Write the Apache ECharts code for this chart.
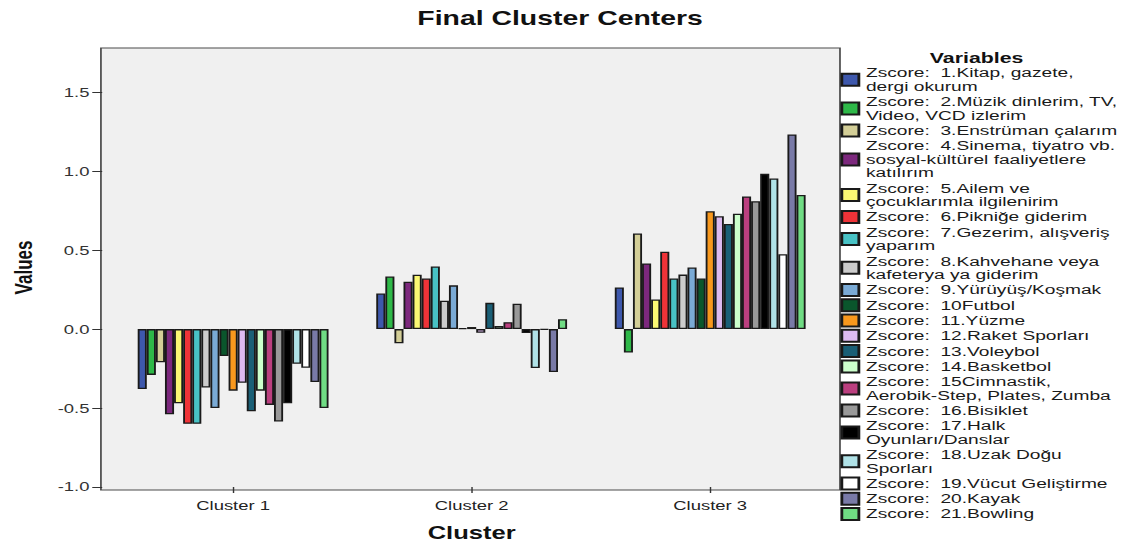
<!DOCTYPE html>
<html>
<head>
<meta charset="utf-8">
<script src="https://cdn.jsdelivr.net/npm/echarts@6/dist/echarts.min.js"></script>
<style>
html,body{margin:0;padding:0;background:#ffffff;overflow:hidden;}
#wrap{width:1130px;height:547px;overflow:hidden;}
#chart{width:796px;height:547px;transform:scaleX(1.4196);transform-origin:0 0;}
</style>
</head>
<body>
<div id="wrap"><div id="chart"></div></div>
<script>
// ---- data ----
const categories = ['Cluster 1', 'Cluster 2', 'Cluster 3'];
const variableNames = [
  'Zscore:  1.Kitap, gazete,\ndergi okurum',
  'Zscore:  2.Müzik dinlerim, TV,\nVideo, VCD izlerim',
  'Zscore:  3.Enstrüman çalarım',
  'Zscore:  4.Sinema, tiyatro vb.\nsosyal-kültürel faaliyetlere\nkatılırım',
  'Zscore:  5.Ailem ve\nçocuklarımla ilgilenirim',
  'Zscore:  6.Pikniğe giderim',
  'Zscore:  7.Gezerim, alışveriş\nyaparım',
  'Zscore:  8.Kahvehane veya\nkafeterya ya giderim',
  'Zscore:  9.Yürüyüş/Koşmak',
  'Zscore:  10Futbol',
  'Zscore:  11.Yüzme',
  'Zscore:  12.Raket Sporları',
  'Zscore:  13.Voleybol',
  'Zscore:  14.Basketbol',
  'Zscore:  15Cimnastik,\nAerobik-Step, Plates, Zumba',
  'Zscore:  16.Bisiklet',
  'Zscore:  17.Halk\nOyunları/Danslar',
  'Zscore:  18.Uzak Doğu\nSporları',
  'Zscore:  19.Vücut Geliştirme',
  'Zscore:  20.Kayak',
  'Zscore:  21.Bowling'
];
const cluster1 = [-0.38,-0.29,-0.21,-0.54,-0.47,-0.60,-0.60,-0.37,-0.50,-0.17,-0.39,-0.34,-0.52,-0.39,-0.48,-0.585,-0.47,-0.22,-0.245,-0.335,-0.50];
const cluster2 = [0.225,0.333,-0.09,0.30,0.344,0.32,0.396,0.18,0.277,0.005,0.013,-0.023,0.166,0.019,0.044,0.16,-0.025,-0.247,-0.004,-0.272,0.063];
const cluster3 = [0.264,-0.149,0.605,0.416,0.188,0.49,0.32,0.345,0.39,0.32,0.746,0.715,0.665,0.73,0.84,0.81,0.983,0.954,0.474,1.233,0.849];
const yTicks = [-1.0, -0.5, 0.0, 0.5, 1.0, 1.5];
const yMin = -1.0, yMax = 1.78;

// ---- styles ----
const colors = ['#3E58AC','#2EB848','#D3CE97','#7C287D','#FBF873','#EF3338','#48C2C5','#CCCCCC','#7AAAD5','#0A562C',
  '#F8981D','#DDBAF1','#1A5F76','#CCFFCC','#BB3F7F','#999999','#000000','#B0E2E7','#FFFFFF','#797AA7','#70DC84'];
const FONT = '"Liberation Sans", Arial, sans-serif';

const series = variableNames.map((name, i) => ({
  name: name,
  type: 'bar',
  data: [cluster1[i], cluster2[i], cluster3[i]],
  barGap: '0%',
  barCategoryGap: '20%',
  itemStyle: { color: colors[i], borderColor: '#1a1a1a', borderWidth: 1.3 },
  emphasis: { disabled: true },
  animation: false
}));

const chart = echarts.init(document.getElementById('chart'), null, { renderer: 'svg' });
chart.setOption({
  animation: false,
  backgroundColor: '#ffffff',
  title: [
    { text: 'Final Cluster Centers', left: 294, top: 8, padding: 0,
      textStyle: { fontFamily: FONT, fontSize: 20, fontWeight: 'bold', color: '#111' } },
    { text: 'Variables', left: 655, top: 50, padding: 0,
      textStyle: { fontFamily: FONT, fontSize: 15, fontWeight: 'bold', color: '#111' } }
  ],
  legend: {
    orient: 'vertical', left: 592, top: 66, padding: 0,
    itemWidth: 12, itemHeight: 12, itemGap: 1.3,
    icon: 'rect', selectedMode: false,
    textStyle: { fontFamily: FONT, fontSize: 13.5, lineHeight: 13.5, color: '#1a1a1a' },
    data: variableNames
  },
  graphic: [{
    type: 'rect', z: -1, silent: true,
    shape: { x: 71.1, y: 48, width: 520.6, height: 442 },
    style: { fill: '#f0f0f0', stroke: '#4a4a4a', lineWidth: 1.2 }
  }],
  grid: { left: 79.3, width: 505, top: 48, height: 442, containLabel: false },
  xAxis: {
    type: 'category', data: categories,
    axisLine: { show: false, onZero: false },
    axisTick: { show: true, alignWithLabel: true, length: 6, lineStyle: { color: '#333' } },
    axisLabel: { fontFamily: FONT, fontSize: 13, color: '#222', margin: 12 },
    name: 'Cluster', nameLocation: 'middle', nameGap: 37,
    nameTextStyle: { fontFamily: FONT, fontSize: 18, fontWeight: 'bold', color: '#111' }
  },
  yAxis: {
    type: 'value', min: yMin, max: yMax, interval: 0.5, offset: 8.2,
    splitLine: { show: false },
    axisLine: { show: false },
    axisTick: { show: true, length: 7, customValues: yTicks, lineStyle: { color: '#333' } },
    axisLabel: { fontFamily: FONT, fontSize: 13, color: '#333', margin: 9, customValues: yTicks,
      formatter: v => Number(v).toFixed(1) },
    name: 'Values', nameLocation: 'middle', nameGap: 47,
    nameTextStyle: { fontFamily: FONT, fontSize: 17, fontWeight: 'bold', color: '#111' }
  },
  series: series
});
</script>
</body>
</html>
